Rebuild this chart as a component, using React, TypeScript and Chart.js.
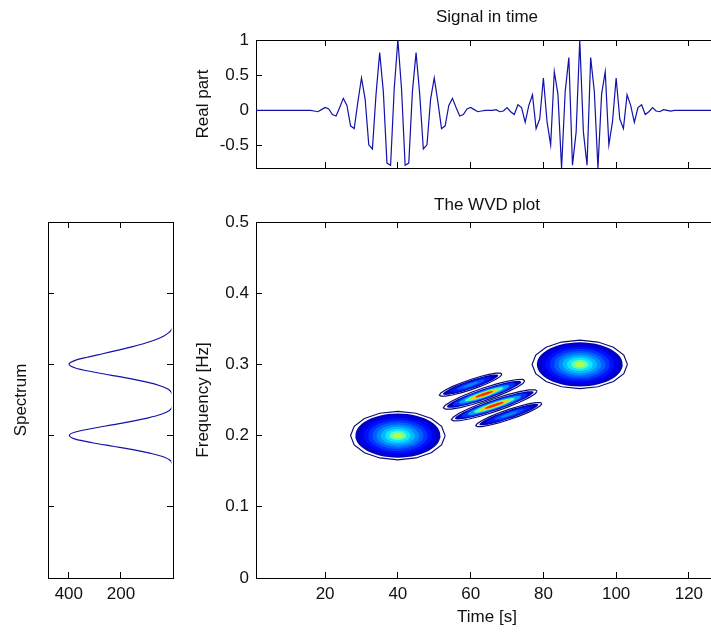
import React, { useEffect, useRef } from 'react';
import { Chart, registerables } from 'chart.js';

Chart.register(...registerables);

const FONT = "'Liberation Sans', Arial, sans-serif";
const TEXT = '#111111';
const AXIS = '#000000';
const LINE = '#1212a8';

// ---------- Signal in time ----------
const timeSamples = Array.from({ length: 128 }, (_, i) => i + 1);
const signalReal = [
  0, 0, 0, 0, 0, 0, 0, 0, 0, 0,
  0, 0, 0, 0, 0, 0, -0.01, -0.02, 0.01, 0.04,
  0.02, -0.06, -0.08, 0.04, 0.17, 0.07, -0.22, -0.26, 0.12, 0.46,
  0.16, -0.49, -0.55, 0.23, 0.82, 0.27, -0.75, -0.78, 0.31, 1.0,
  0.31, -0.78, -0.75, 0.27, 0.82, 0.23, -0.55, -0.49, 0.16, 0.46,
  0.12, -0.26, -0.22, 0.07, 0.17, 0.04, -0.08, -0.06, 0.02, 0.04,
  0.01, -0.02, -0.01, 0, 0, 0, 0.01, -0.02, -0.01, 0.04,
  -0.02, -0.06, 0.08, 0.04, -0.17, 0.07, 0.22, -0.26, -0.12, 0.46,
  -0.16, -0.49, 0.55, 0.23, -0.82, 0.27, 0.75, -0.78, -0.31, 1.0,
  -0.31, -0.78, 0.75, 0.27, -0.82, 0.23, 0.55, -0.49, -0.16, 0.46,
  -0.12, -0.26, 0.22, 0.07, -0.17, 0.04, 0.08, -0.06, -0.02, 0.04,
  -0.01, -0.02, 0.01, 0, -0.01, 0, 0, 0, 0, 0,
  0, 0, 0, 0, 0, 0, 0, 0,
];
const timeTicks = [20, 40, 60, 80, 100, 120];
const realTicks = [-0.5, 0, 0.5, 1];

// ---------- Spectrum ----------
const spectrumFreq = [
  0, 0.15, 0.155, 0.16, 0.165, 0.17, 0.175, 0.18, 0.185, 0.19, 0.195,
  0.2, 0.205, 0.21, 0.215, 0.22, 0.225, 0.23, 0.235, 0.24, 0.245,
  0.25, 0.255, 0.26, 0.265, 0.27, 0.275, 0.28, 0.285, 0.29, 0.295,
  0.3, 0.305, 0.31, 0.315, 0.32, 0.325, 0.33, 0.335, 0.34, 0.345,
  0.35, 0.355, 0.36, 0.5,
];
const spectrumPower = [
  0, 0, 0, 2, 10, 35, 85, 150, 230, 310, 375,
  398, 375, 310, 235, 160, 95, 45, 15, 3, 0,
  0, 1, 5, 18, 50, 100, 165, 240, 315, 375,
  399, 380, 330, 270, 210, 155, 105, 65, 35, 15,
  4, 1, 0, 0,
];
const spectrumTicks = [400, 200];
const freqTicks = [0, 0.1, 0.2, 0.3, 0.4, 0.5];

// ---------- WVD: auto-terms (two blobs) ----------
const autoCenterT = [40, 90];
const autoCenterF = [0.2, 0.3];
const autoHalfT = [11.7, 11.8];
const autoHalfF = [0.031, 0.031];
const autoOutlineT = [13, 13.1];
const autoOutlineF = [0.034, 0.034];
const autoRingScale = [1, 0.9, 0.8, 0.7, 0.6, 0.5, 0.4, 0.3, 0.2, 0.12];
const autoRingColor = [
  '#0000c0', '#0000e8', '#0010ff', '#0034ff', '#0060ff',
  '#008cff', '#00bcff', '#10e8f8', '#60ffb0', '#b0ff50',
];

// ---------- WVD: cross-term stripes ----------
const crossCenterT = [60, 63.7, 66.5, 70.5];
const crossCenterF = [0.2715, 0.258, 0.2425, 0.2295];
const crossHalfLen = [7.6, 10.2, 10.8, 8.1];
const crossHalfWidth = [0.0062, 0.0078, 0.0078, 0.0062];
const crossStrong = [false, true, true, false];
const crossSlope = 0.0017;
const strongRingScale = [1, 0.84, 0.68, 0.52, 0.38, 0.24];
const strongRingColor = ['#0000c0', '#0030ff', '#00a0ff', '#50ffb0', '#ffd000', '#ff2a00'];
const weakRingScale = [1, 0.75, 0.5, 0.28];
const weakRingColor = ['#0000c0', '#0018f8', '#0050ff', '#0088ff'];

// ---------- helpers ----------
const tickFont = { family: FONT, size: 17 };
const inward = {
  display: true,
  drawOnChartArea: false,
  drawTicks: true,
  tickLength: -6,
  color: AXIS,
  tickColor: AXIS,
  lineWidth: 1,
  tickWidth: 1,
};
const border = { display: true, color: AXIS, width: 1 };

const fixed = (w?: number, h?: number) => (s: any) => {
  if (w !== undefined) s.width = w;
  if (h !== undefined) s.height = h;
  s.paddingTop = 0;
  s.paddingBottom = 0;
  s.paddingLeft = 0;
  s.paddingRight = 0;
};
const setTicks = (vals: number[]) => (s: any) => {
  s.ticks = vals.map((v) => ({ value: v }));
};
const label = (v: any) => String(v);

function ellipse(tc: number, fc: number, rt: number, rf: number, shear = 0, n = 56) {
  const pts: { x: number; y: number }[] = [];
  for (let k = 0; k <= n; k++) {
    const a = (2 * Math.PI * k) / n;
    pts.push({ x: tc + rt * Math.cos(a), y: fc + shear * rt * Math.cos(a) + rf * Math.sin(a) });
  }
  return pts;
}

const baseOptions = (padRight: number) => ({
  responsive: false,
  animation: false as const,
  events: [] as any[],
  layout: { padding: { left: 0, right: padRight, top: 0, bottom: 0 } },
});

// ---------- chart configs ----------
function signalConfig(): any {
  return {
    type: 'line',
    data: {
      datasets: [
        {
          data: timeSamples.map((t, i) => ({ x: t, y: signalReal[i] })),
          borderColor: LINE,
          borderWidth: 1.2,
          pointRadius: 0,
          tension: 0,
          fill: false,
        },
      ],
    },
    options: {
      ...baseOptions(12),
      plugins: {
        legend: { display: false },
        tooltip: { enabled: false },
        title: {
          display: true,
          text: 'Signal in time',
          fullSize: false,
          color: TEXT,
          font: { family: FONT, size: 17, weight: 'normal' },
          padding: { top: 6.8, bottom: 12.8 },
        },
      },
      scales: {
        x: {
          type: 'linear', min: 1, max: 128, position: 'bottom',
          afterBuildTicks: setTicks(timeTicks), afterFit: fixed(undefined, 12),
          ticks: { display: false }, grid: inward, border,
        },
        xTop: {
          type: 'linear', min: 1, max: 128, position: 'top',
          afterBuildTicks: setTicks(timeTicks), afterFit: fixed(undefined, 0),
          ticks: { display: false }, grid: inward, border,
        },
        y: {
          type: 'linear', min: -0.82, max: 1, position: 'left',
          afterBuildTicks: setTicks(realTicks), afterFit: fixed(256),
          ticks: { padding: 13, color: TEXT, font: tickFont, callback: label, autoSkip: false },
          grid: inward, border,
          title: { display: true, text: 'Real part', color: TEXT, font: tickFont, padding: { top: 192.8, bottom: 0 } },
        },
      },
    },
  };
}

function spectrumConfig(): any {
  return {
    type: 'line',
    data: {
      datasets: [
        {
          data: spectrumFreq.map((f, i) => ({ x: spectrumPower[i], y: f })),
          borderColor: LINE,
          borderWidth: 1.2,
          pointRadius: 0,
          tension: 0.3,
          fill: false,
          clip: { left: 0, top: 0, right: -1.6, bottom: 0 },
        },
      ],
    },
    options: {
      ...baseOptions(0),
      plugins: { legend: { display: false }, tooltip: { enabled: false } },
      scales: {
        x: {
          type: 'linear', min: 0, max: 480, reverse: true, position: 'bottom',
          afterBuildTicks: setTicks(spectrumTicks), afterFit: fixed(undefined, 54),
          ticks: { padding: 12.3, color: TEXT, font: tickFont, callback: label, autoSkip: false, maxRotation: 0 },
          grid: inward, border,
        },
        xTop: {
          type: 'linear', min: 0, max: 480, reverse: true, position: 'top',
          afterBuildTicks: setTicks(spectrumTicks), afterFit: fixed(undefined, 32),
          ticks: { display: false }, grid: inward, border,
        },
        y: {
          type: 'linear', min: 0, max: 0.5, position: 'left',
          afterBuildTicks: setTicks(freqTicks), afterFit: fixed(48),
          ticks: { display: false }, grid: inward, border,
          title: { display: true, text: 'Spectrum', color: TEXT, font: tickFont, padding: { top: 10.8, bottom: 0 } },
        },
        yRight: {
          type: 'linear', min: 0, max: 0.5, position: 'right',
          afterBuildTicks: setTicks(freqTicks), afterFit: fixed(17),
          ticks: { display: false }, grid: inward, border,
        },
      },
    },
  };
}

function wvdConfig(): any {
  const fills: any[] = [];
  const lines: any[] = [];
  const fillSet = (pts: any[], color: string) => ({
    data: pts, fill: 'shape', backgroundColor: color, borderColor: 'transparent',
    borderWidth: 0, pointRadius: 0, tension: 0,
  });
  const lineSet = (pts: any[]) => ({
    data: pts, fill: false, borderColor: '#0c0c6e', borderWidth: 1.2, pointRadius: 0, tension: 0,
  });

  autoCenterT.forEach((tc, b) => {
    lines.push(lineSet(ellipse(tc, autoCenterF[b], autoOutlineT[b], autoOutlineF[b], 0, 16)));
    autoRingScale.forEach((s, r) => {
      fills.push(fillSet(ellipse(tc, autoCenterF[b], autoHalfT[b] * s, autoHalfF[b] * s), autoRingColor[r]));
    });
  });
  crossCenterT.forEach((tc, k) => {
    const scales = crossStrong[k] ? strongRingScale : weakRingScale;
    const colors = crossStrong[k] ? strongRingColor : weakRingColor;
    lines.push(lineSet(ellipse(tc, crossCenterF[k], crossHalfLen[k] + 1, crossHalfWidth[k] * 1.18, crossSlope, 20)));
    scales.forEach((s, r) => {
      fills.push(fillSet(ellipse(tc, crossCenterF[k], crossHalfLen[k] * s, crossHalfWidth[k] * s, crossSlope), colors[r]));
    });
  });
  const n = fills.length;
  fills.forEach((d, i) => { d.order = n + 10 - i; });
  lines.forEach((d) => { d.order = 0; });

  return {
    type: 'line',
    data: { datasets: [...fills, ...lines] },
    options: {
      ...baseOptions(12),
      plugins: {
        legend: { display: false },
        tooltip: { enabled: false },
        title: {
          display: true,
          text: 'The WVD plot',
          fullSize: false,
          color: TEXT,
          font: { family: FONT, size: 17, weight: 'normal' },
          padding: { top: 5.3, bottom: 6.3 },
        },
      },
      scales: {
        x: {
          type: 'linear', min: 1, max: 128, position: 'bottom',
          afterBuildTicks: setTicks(timeTicks), afterFit: fixed(undefined, 54),
          ticks: { padding: 12.3, color: TEXT, font: tickFont, callback: label, autoSkip: false, maxRotation: 0 },
          grid: inward, border,
          title: { display: true, text: 'Time [s]', color: TEXT, font: tickFont, padding: { top: 0, bottom: 4.8 } },
        },
        xTop: {
          type: 'linear', min: 1, max: 128, position: 'top',
          afterBuildTicks: setTicks(timeTicks), afterFit: fixed(undefined, 0),
          ticks: { display: false }, grid: inward, border,
        },
        y: {
          type: 'linear', min: 0, max: 0.5, position: 'left',
          afterBuildTicks: setTicks(freqTicks), afterFit: fixed(76),
          ticks: { padding: 13, color: TEXT, font: tickFont, callback: label, autoSkip: false },
          grid: inward, border,
          title: { display: true, text: 'Frequency [Hz]', color: TEXT, font: tickFont, padding: { top: 12.8, bottom: 0 } },
        },
      },
    },
  };
}

function Panel({ left, top, width, height, make }: { left: number; top: number; width: number; height: number; make: () => any }) {
  const ref = useRef<HTMLCanvasElement>(null);
  useEffect(() => {
    const chart = new Chart(ref.current as HTMLCanvasElement, make());
    return () => chart.destroy();
  }, []);
  return (
    <canvas
      ref={ref}
      width={width}
      height={height}
      style={{ position: 'absolute', left, top, width, height, display: 'block' }}
    />
  );
}

export default function App() {
  return (
    <div
      style={{
        position: 'fixed', left: 0, top: 0, width: 711, height: 632,
        overflow: 'hidden', background: '#ffffff',
      }}
    >
      <Panel left={0} top={0} width={730} height={180} make={signalConfig} />
      <Panel left={0} top={190} width={190} height={442} make={spectrumConfig} />
      <Panel left={180} top={190} width={550} height={442} make={wvdConfig} />
    </div>
  );
}
